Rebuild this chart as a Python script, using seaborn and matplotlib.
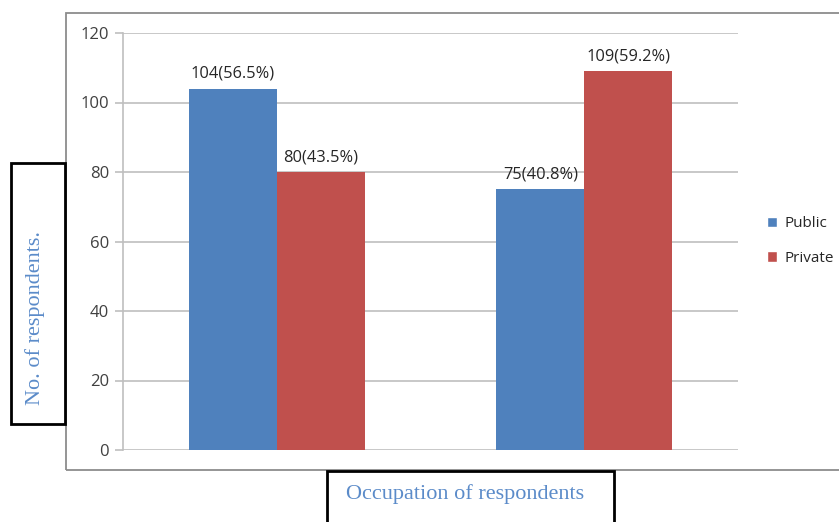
import matplotlib
matplotlib.use("Agg")
import matplotlib.pyplot as plt
from matplotlib.patches import Rectangle
import seaborn as sns
import pandas as pd

groups = ["Group A", "Group B"]
sectors = ["Public", "Private"]
public_counts = [104, 75]
private_counts = [80, 109]
public_labels = ["104(56.5%)", "75(40.8%)"]
private_labels = ["80(43.5%)", "109(59.2%)"]
y_ticks = [0, 20, 40, 60, 80, 100, 120]

df = pd.DataFrame({
    "group": groups * 2,
    "sector": ["Public"] * len(groups) + ["Private"] * len(groups),
    "count": public_counts + private_counts,
    "label": public_labels + private_labels,
})

sns.set_theme(style="white")
plt.rcParams["font.family"] = ["Open Sans", "DejaVu Sans"]

W, H = 839, 522
fig = plt.figure(figsize=(W / 100, H / 100), dpi=100)

def fx(px):
    return px / W

def fy(py):
    return 1 - py / H

# outer chart frame
fig.add_artist(Rectangle((fx(66), fy(470)), fx(W + 10) - fx(66), fy(13) - fy(470),
                         transform=fig.transFigure, fill=False,
                         edgecolor="#8c8c8c", linewidth=1.3, clip_on=False))

ax = fig.add_axes([fx(123), fy(450), fx(738) - fx(123), fy(33) - fy(450)])
palette = {"Public": "#4f81bd", "Private": "#c0504d"}
sns.barplot(data=df, x="group", y="count", hue="sector", hue_order=sectors,
            order=groups, palette=palette, width=0.572, saturation=1,
            errorbar=None, ax=ax, legend=False, linewidth=0)

ax.set_ylim(0, 120)
ax.set_xlim(-0.5, 1.5)
ax.set_yticks(y_ticks)
ax.yaxis.grid(True, color="#bfbfbf", linewidth=1.2)
ax.set_axisbelow(True)
for s in ["top", "right", "bottom"]:
    ax.spines[s].set_visible(False)
ax.spines["left"].set_color("#bfbfbf")
ax.spines["left"].set_linewidth(1.2)
ax.tick_params(axis="y", length=6, width=1.2, color="#bfbfbf", labelsize=12,
               labelcolor="#404040", left=True, pad=4)
ax.set_xticks([])
ax.set_xlabel("")
ax.set_ylabel("")

# value labels above each bar
for container, labels in zip(ax.containers, [public_labels, private_labels]):
    ax.bar_label(container, labels=labels, padding=5, fontsize=11.8, color="#262626")

# legend
handles = [Rectangle((0, 0), 1, 1, facecolor=palette[s]) for s in sectors]
fig.legend(handles, sectors, loc="center left", bbox_to_anchor=(fx(753), fy(241)),
           frameon=False, fontsize=11, handlelength=0.7, handleheight=0.7,
           handletextpad=0.45, labelspacing=1.25, labelcolor="#262626")

# axis title boxes
fig.add_artist(Rectangle((fx(11), fy(424)), fx(65) - fx(11), fy(163) - fy(424),
                         transform=fig.transFigure, fill=False,
                         edgecolor="black", linewidth=2, clip_on=False))
fig.text(fx(35), fy(318), "No. of respondents.", rotation=90, ha="center", va="center",
         fontsize=16, color="#5b8bc9", family=["Liberation Serif"])

fig.add_artist(Rectangle((fx(327), fy(530)), fx(614) - fx(327), fy(471) - fy(530),
                         transform=fig.transFigure, fill=False,
                         edgecolor="black", linewidth=2, clip_on=False))
fig.text(fx(465), fy(494), "Occupation of respondents", ha="center", va="center",
         fontsize=16, color="#5b8bc9", family=["Liberation Serif"])

fig.savefig("out.png", dpi=100)
